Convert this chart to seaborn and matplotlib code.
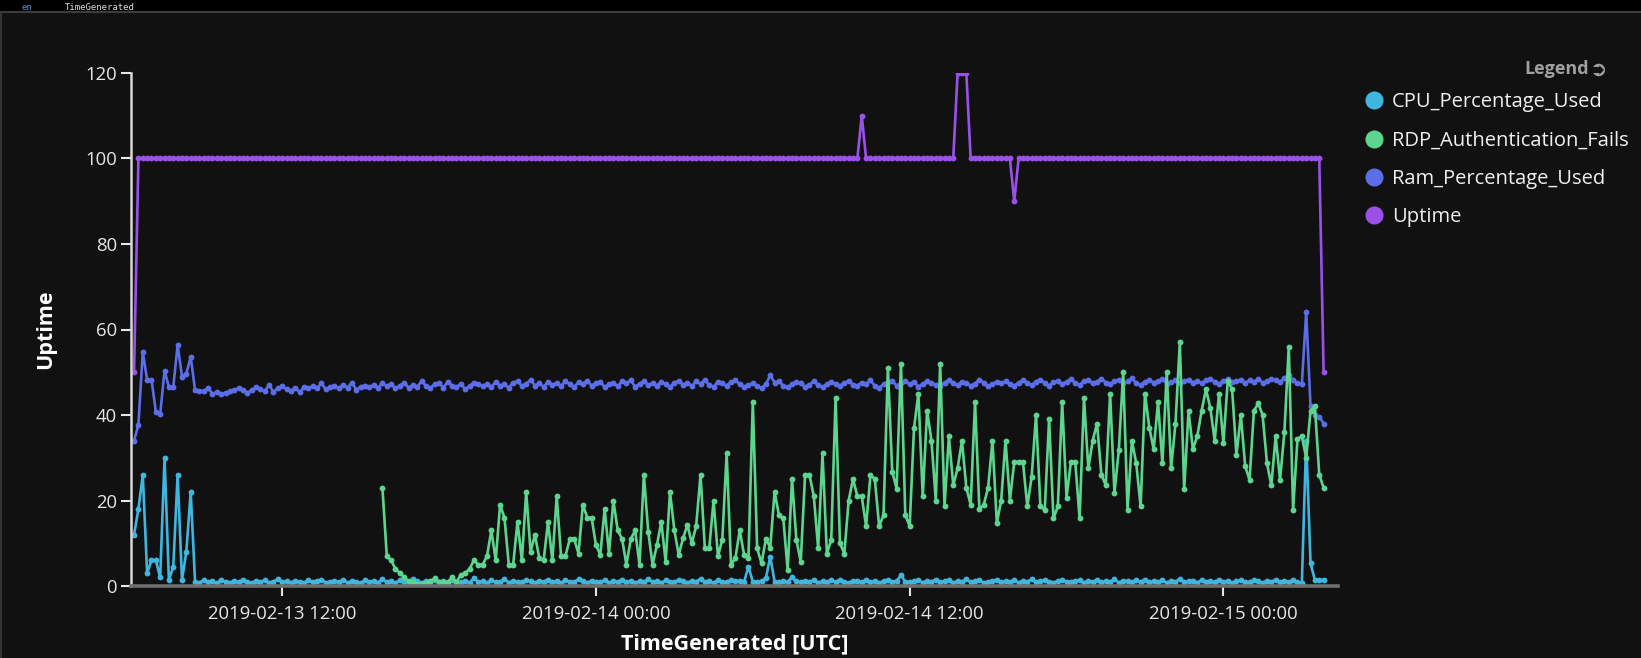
import numpy as np
import pandas as pd
import matplotlib
matplotlib.use("Agg")
import matplotlib.pyplot as plt
import matplotlib.dates as mdates
from matplotlib.lines import Line2D
from matplotlib.patches import Rectangle
import seaborn as sns

# ---------------- data ----------------
series_names = ["CPU_Percentage_Used", "RDP_Authentication_Fails",
                "Ram_Percentage_Used", "Uptime"]
series_colors = ["#3fb6e0", "#5cd68f", "#5c6de8", "#9b51e8"]
start_time = "2019-02-13 06:20"
rdp_start_time = "2019-02-13 15:50"
step_minutes = 10
x_ticks = ["2019-02-13 12:00", "2019-02-14 00:00", "2019-02-14 12:00", "2019-02-15 00:00"]
x_limits = ["2019-02-13 06:13", "2019-02-15 04:23"]
y_ticks = [0, 20, 40, 60, 80, 100, 120]

cpu = [
    12, 18, 26, 3, 6, 6, 2, 30, 1.4, 4.5, 26, 1.4, 8, 22,
    1.0, 0.8, 1.3, 0.9, 1.1, 0.7, 1.4, 1.0, 0.8, 1.2, 0.9, 1.5, 1.0, 0.7, 1.1, 0.9, 1.3, 0.8, 1.0, 1.6,
    0.9, 1.1, 0.8, 1.2, 1.0, 0.7, 1.3, 0.9, 1.1, 1.5, 0.8, 1.0, 1.2, 0.9, 1.4, 0.8, 1.1, 1.0, 0.7, 1.3,
    1.0, 1.2, 0.8, 1.6, 0.9, 1.1, 0.8, 1.3, 1.0, 0.9, 1.7, 1.1, 0.8, 1.2, 1.0, 1.5, 0.9, 1.1, 0.8, 1.4,
    1.0, 0.9, 1.2, 0.8, 1.8, 1.0, 1.1, 0.8, 1.3, 0.9, 1.0, 1.6, 0.8, 1.2, 1.0, 0.9, 1.4, 1.1, 0.8, 1.2,
    1.0, 1.5, 0.9, 1.1, 0.8, 1.3, 1.0, 0.9, 1.6, 1.1, 0.8, 1.2, 1.0, 0.9, 1.4, 0.8, 1.1, 1.0, 1.5, 0.9,
    1.2, 0.8, 1.1, 1.0, 1.6, 0.9, 1.1, 0.8, 1.3, 1.0, 0.9, 1.5, 1.1, 0.8, 1.2, 1.0, 1.7, 0.9, 1.1, 0.8,
    1.3, 1.0, 0.9, 1.4, 1.1, 1.2, 1.0, 4.5, 1.0, 0.9, 1.1, 1.8, 6.9, 1.0, 0.9, 1.1, 1.0, 2.0, 1.1, 0.9,
    1.2, 1.0, 1.4, 0.8, 1.1, 1.0, 1.3, 0.9, 1.5, 1.0, 0.8, 1.2, 1.1, 0.9, 1.4, 1.0, 1.2, 0.8, 1.1, 1.3,
    1.0, 1.2, 2.5, 1.0, 0.9, 1.1, 1.4, 0.8, 1.2, 1.0, 1.5, 0.9, 1.1, 1.3, 0.8, 1.2, 1.0, 1.6, 0.9, 1.1,
    1.3, 0.8, 1.0, 1.2, 1.5, 0.9, 1.1, 1.0, 1.4, 0.8, 1.2, 1.0, 1.6, 0.9, 1.1, 1.3, 1.0, 0.8, 1.2, 1.5,
    1.0, 0.9, 1.1, 1.3, 0.8, 1.2, 1.0, 1.4, 0.9, 1.1, 1.0, 1.6, 0.8, 1.2, 1.1, 0.9, 1.3, 1.0, 1.5, 0.9,
    1.1, 1.0, 1.3, 0.8, 1.2, 1.0, 1.7, 0.9, 1.1, 1.2, 0.8, 1.4, 1.0, 1.1, 0.9, 1.5, 1.0, 1.2, 0.8, 1.1,
    1.3, 1.0, 0.9, 1.4, 1.1, 0.8, 1.2, 1.0, 1.5, 0.9, 1.1, 1.0, 1.3, 0.9, 0.6,
    34, 5.3, 1.4, 1.4, 1.4,
]

ram = [
    34, 37.7, 54.8, 48.2, 48.3, 40.8, 40.2, 50.4, 46.5, 46.5, 56.4, 49, 49.7, 53.6,
    45.8, 45.5, 45.6, 46.2, 45.0, 45.3, 44.8, 45.2, 45.6, 45.8, 46.3, 45.9, 45.2, 45.8, 46.5, 46.0,
    45.6, 47.0, 45.4, 46.2, 46.8, 46.0, 45.6, 46.4, 45.3, 46.5, 46.2,
    46.8, 46.3, 47.4, 46.0, 46.5, 46.8, 46.2, 47.0, 46.4, 47.6, 45.9, 46.6, 46.9, 46.5, 47.1, 46.3,
    47.5, 46.8, 47.2, 46.2, 46.9, 47.6, 46.4, 47.0, 46.6, 47.9, 46.8, 46.3, 47.2, 47.5, 46.4, 47.8,
    46.9, 46.5, 47.3, 46.0, 46.8, 47.6, 47.2, 46.7,
    47.3, 46.5, 47.8, 46.9, 47.2, 46.4, 47.6, 47.9, 46.8, 47.3, 48.2, 46.9, 47.4, 46.6, 47.8, 47.1,
    47.5, 46.8, 47.9, 47.2, 46.5, 47.7, 47.3, 48.0, 46.9, 47.4, 47.8, 46.5, 47.2, 47.6, 46.7, 47.9,
    47.4, 48.1, 46.6, 47.3, 47.9, 47.0, 47.5, 46.9,
    47.8, 47.2, 46.5, 47.6, 48.0, 47.1, 47.5, 46.8, 47.9, 47.3, 48.2, 47.0, 46.6, 47.8, 47.4, 46.9,
    47.7, 48.1, 47.2, 46.6, 47.0, 47.5, 46.8, 46.3, 47.2, 49.3, 47.6, 47.9, 46.8, 46.5, 47.2, 47.8,
    47.4, 46.6, 47.1, 47.9, 47.0, 46.5, 47.3, 47.8,
    47.2, 46.8, 47.5, 48.0, 47.1, 46.9, 47.6, 47.3, 48.1, 46.8, 46.4, 47.2, 47.8, 48.0, 46.9, 47.4,
    47.9, 47.2, 47.8, 46.6, 47.3, 47.9, 47.5, 47.1, 46.8, 47.6, 48.2, 47.4, 47.0, 47.8, 47.5, 46.9,
    47.3, 48.3, 47.6, 46.7, 47.2, 47.8, 47.4, 47.9,
    47.2, 46.8, 47.6, 48.1, 47.5, 47.0, 47.8, 48.3, 47.4, 46.9, 47.7, 48.0, 47.3, 47.8, 48.4, 47.5,
    47.1, 47.9, 48.2, 47.4, 47.8, 48.5, 47.6, 47.2, 47.9, 48.3, 47.5, 47.9, 48.6, 47.4, 47.0, 47.8,
    48.2, 47.6, 47.9, 48.4, 47.3, 47.7, 48.1, 47.5,
    47.9, 48.3, 47.6, 48.0, 47.4, 48.2, 48.5, 47.8, 47.3, 48.0, 48.4, 47.7, 47.9, 48.3, 47.5, 48.1,
    47.8, 48.4, 47.6, 47.9, 48.5, 48.2, 47.8, 48.6, 49.4, 48.2, 47.4, 47.2,
    64, 42, 40, 39.6, 38,
]

rdp = [
    23, 7, 6, 4, 3, 2, 1.2, 0.9, 0.5, 0.5,
    0.8, 1.2, 1.8, 1, 0.9, 1, 2, 1, 2.6, 3,
    4, 6, 5, 5, 7, 13, 6, 19, 16, 5,
    5, 15, 6, 22, 8, 12, 6.5, 6, 15, 6,
    21, 7, 7, 11, 11, 7.6, 19, 16, 16, 9.6,
    7.3, 18, 7.6, 20, 13, 11, 5, 11, 13, 5,
    26, 12.7, 5, 9.6, 15, 5.7, 22, 13, 7.3, 11.2,
    14.3, 10, 14, 26, 8.8, 8.8, 20, 7, 10.8, 31,
    5, 6.5, 13, 7.3, 6.5, 43, 8.8, 5.3, 11, 9,
    22, 16.6, 15.8, 3.7, 25, 10.8, 5.7, 26, 26, 21,
    8.8, 31, 7.6, 10.8, 44, 10, 7.6, 20, 25, 21,
    21, 14, 26, 25, 14, 16.6, 51, 26.7, 22.8, 52,
    16.6, 14, 37, 45, 21, 41, 34, 20, 52, 18.6,
    35, 23.6, 27.5, 34, 23, 19, 43, 18, 19, 23,
    34, 14.7, 20, 34, 20, 29, 29, 29, 18.6, 25.6,
    40, 18.6, 17.8, 39, 15.8, 18.6, 43, 20.7, 29, 29,
    15.8, 44, 27.5, 34, 38, 26, 23.6, 45, 21.7, 31.8,
    50, 17.8, 34, 28.7, 18.6, 45, 37, 32, 43, 28.7,
    50, 27.5, 38, 57, 22.6, 41, 32, 35, 41, 46,
    41.6, 34, 45, 33.5, 48, 46, 30.6, 40, 28, 24.8,
    41, 42.7, 40, 28.7, 23.6, 35, 24.8, 36, 56, 17.8,
    34.5, 35, 30, 41, 42, 26, 23,
]

# uptime as (value, number of consecutive samples)
uptime_runs = [(50, 1), (100, 166), (110, 1), (100, 21), (120, 3),
               (100, 10), (90, 1), (100, 70), (50, 1)]
uptime = [v for v, n in uptime_runs for _ in range(n)]

# ---------------- frame ----------------
def make_frame(name, values, start):
    t = pd.date_range(start, periods=len(values), freq=f"{step_minutes}min")
    return pd.DataFrame({"time": t, "value": values, "series": name})

df = pd.concat([
    make_frame(series_names[0], cpu, start_time),
    make_frame(series_names[1], rdp, rdp_start_time),
    make_frame(series_names[2], ram, start_time),
    make_frame(series_names[3], uptime, start_time),
], ignore_index=True)

palette = dict(zip(series_names, series_colors))

# ---------------- style ----------------
BG = "#111111"
sns.set_style("dark", {"axes.facecolor": BG, "figure.facecolor": BG,
                       "axes.grid": False, "text.color": "white",
                       "xtick.color": "#e6e6e6", "ytick.color": "#e6e6e6",
                       "axes.labelcolor": "white"})
plt.rcParams["font.family"] = ["Open Sans", "DejaVu Sans"]

W, H = 1641, 658
fig = plt.figure(figsize=(W / 100, H / 100), dpi=100, facecolor=BG)
ax = fig.add_axes([131 / W, 1 - 586 / H, (1338 - 131) / W, (586 - 73) / H])
ax.set_facecolor(BG)

draw_order = ["Uptime", "Ram_Percentage_Used", "CPU_Percentage_Used", "RDP_Authentication_Fails"]
for name in draw_order:
    sub = df[df["series"] == name]
    sns.lineplot(data=sub, x="time", y="value", color=palette[name], marker="o",
                 markersize=4.2, markeredgewidth=0, linewidth=1.9, ax=ax,
                 legend=False, estimator=None, sort=True)

ax.set_ylim(0, 120)
ax.set_yticks(y_ticks)
ax.set_xlim(pd.Timestamp(x_limits[0]), pd.Timestamp(x_limits[1]))
ax.set_xticks([pd.Timestamp(t) for t in x_ticks])
ax.xaxis.set_major_formatter(mdates.DateFormatter("%Y-%m-%d %H:%M"))

for s in ["top", "right"]:
    ax.spines[s].set_visible(False)
ax.spines["left"].set_color("#d8d8d8")
ax.spines["left"].set_linewidth(1.8)
ax.spines["bottom"].set_color("#6e6e6e")
ax.spines["bottom"].set_linewidth(2.6)

ax.tick_params(axis="y", colors="#e6e6e6", length=7, width=1.5, labelsize=13.3, pad=3,
               left=True)
ax.tick_params(axis="x", colors="#e6e6e6", length=7, width=1.5, labelsize=13.3, pad=7,
               bottom=True)

ax.set_xlabel("TimeGenerated [UTC]", fontsize=15.5, fontweight="bold", color="white", labelpad=7)
ax.set_ylabel("Uptime", fontsize=15.5, fontweight="bold", color="white", labelpad=21)

# legend
handles = [Line2D([], [], marker="o", linestyle="", markersize=13,
                  markerfacecolor=c, markeredgewidth=0) for c in series_colors]
fig.legend(handles, series_names, loc="upper left",
           bbox_to_anchor=(1366 / W, 1 - 92.5 / H), bbox_transform=fig.transFigure,
           frameon=False, fontsize=14.5, handlelength=0.8, handletextpad=0.5,
           labelspacing=0.91, borderpad=0, borderaxespad=0, labelcolor="#f0f0f0")
fig.text(1589 / W, 1 - 69.3 / H, "Legend", ha="right", va="center",
         fontsize=13, fontweight="bold", color="#a0a0a0")
fig.text(1590 / W, 1 - 69.3 / H, "\u27b2", ha="left", va="center",
         fontsize=15, color="#a0a0a0", family="DejaVu Sans")

# window chrome: dark band at top with editor text, thin border
fig.add_artist(Rectangle((0, 1 - 11 / H), 1, 11 / H, transform=fig.transFigure,
                         color="black", zorder=0))
fig.add_artist(Line2D([0, 1], [1 - 11.5 / H] * 2, transform=fig.transFigure,
                      color="#3c3c3c", linewidth=1.5))
fig.add_artist(Line2D([0.6 / W] * 2, [0, 1 - 11.5 / H], transform=fig.transFigure,
                      color="#3c3c3c", linewidth=1.2))
fig.text(22 / W, 1 - 9.5 / H, "en", color="#3d8fd6", fontsize=6.5,
         family="DejaVu Sans Mono", va="baseline")
fig.text(65 / W, 1 - 9.5 / H, "TimeGenerated", color="#dddddd", fontsize=6.5,
         family="DejaVu Sans Mono", va="baseline")

fig.savefig("out.png", dpi=100, facecolor=BG)
